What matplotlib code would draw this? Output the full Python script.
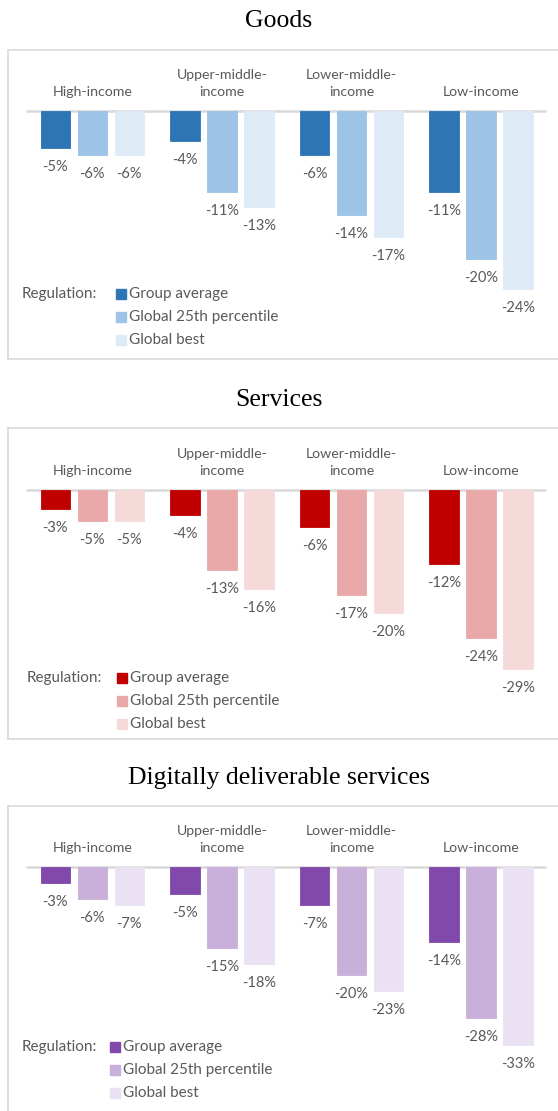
import matplotlib.pyplot as plt
from matplotlib.patches import Rectangle

# income groups and regulation scenarios
groups = ['High-income', 'Upper-middle-\nincome', 'Lower-middle-\nincome', 'Low-income']
series = ['Group average', 'Global 25th percentile', 'Global best']

# trade cost change (%) per panel: rows = series, cols = income groups
goods = [[-5, -4, -6, -11],
         [-6, -11, -14, -20],
         [-6, -13, -17, -24]]
services = [[-3, -4, -6, -12],
            [-5, -13, -17, -24],
            [-5, -16, -20, -29]]
digital = [[-3, -5, -7, -14],
           [-6, -15, -20, -28],
           [-7, -18, -23, -33]]

titles = ['Goods', 'Services', 'Digitally deliverable services']
palettes = [['#2E75B6', '#9DC3E6', '#DEEBF7'],
            ['#C00000', '#E9A9A9', '#F6DADA'],
            ['#8049AB', '#C9B0DA', '#EAE2F2']]

W, H = 558, 1111
fig = plt.figure(figsize=(W / 100, H / 100), dpi=100)
plt.rcParams['font.family'] = ['Lato', 'DejaVu Sans']
grey = '#595959'
edge = '#D9D9D9'

def fx(px):
    return px / W

def fy(py):
    return 1 - py / H

# panel layout in pixels: title y, box top, zero line y, box bottom, px per %, legend x
panels = [
    dict(data=goods, title_y=21, top=50, zero=111, bottom=359, scale=7.4, leg=(22, 116), leg_y=294),
    dict(data=services, title_y=400, top=428, zero=490, bottom=739, scale=6.17, leg=(27, 117), leg_y=678),
    dict(data=digital, title_y=778, top=806, zero=867, bottom=1116, scale=5.38, leg=(22, 110), leg_y=1047),
]

pitch = 129.6      # px between group centres
first = 92.3       # px centre of first group
left, right = 7.5, 562
bw = 29.3 / pitch
off = 37 / pitch

for p, title, cols in zip(panels, titles, palettes):
    ax = fig.add_axes([fx(left), fy(p['bottom']), fx(right - left), (p['bottom'] - p['top']) / H])
    ax.set_xlim(-(first - left) / pitch, (right - first) / pitch)
    ax.set_ylim(-(p['bottom'] - p['zero']) / p['scale'], (p['zero'] - p['top']) / p['scale'])
    ax.set_xticks([])
    ax.set_yticks([])
    for side in ['left', 'top', 'bottom']:
        ax.spines[side].set_color(edge)
        ax.spines[side].set_linewidth(1.2)
    ax.spines['right'].set_visible(False)

    x0 = -(first - 26) / pitch
    x1 = (546 - first) / pitch
    ax.hlines(0, x0, x1, color=edge, lw=1.8, zorder=1)

    data = p['data']
    for s in range(3):
        xs = [g + (s - 1) * off for g in range(4)]
        ax.bar(xs, data[s], width=bw, color=cols[s], edgecolor=cols[s], lw=0.6, zorder=2)
        for x, v in zip(xs, data[s]):
            ax.annotate(f'{v}%', (x, v), xytext=(0, -13.7), textcoords='offset points',
                        ha='center', va='center', fontsize=10.5, color=grey)

    for g, name in enumerate(groups):
        ax.annotate(name, (g, 0), xytext=(0, 9.5), textcoords='offset points',
                    ha='center', va='bottom', fontsize=10.2, color=grey, linespacing=1.5)

    fig.text(0.5, fy(p['title_y']), title, ha='center', va='center',
             fontsize=18.5, family='Liberation Serif', color='black')

    lx, sx = p['leg']
    fig.text(fx(lx), fy(p['leg_y']), 'Regulation:', ha='left', va='center', fontsize=11, color=grey)
    for s in range(3):
        yy = p['leg_y'] + s * 23
        fig.patches.append(Rectangle((fx(sx), fy(yy + 5)), fx(10), 10 / H,
                                     transform=fig.transFigure, color=cols[s]))
        fig.text(fx(sx + 13), fy(yy), series[s], ha='left', va='center', fontsize=11, color=grey)

fig.savefig('out.png', dpi=100)
